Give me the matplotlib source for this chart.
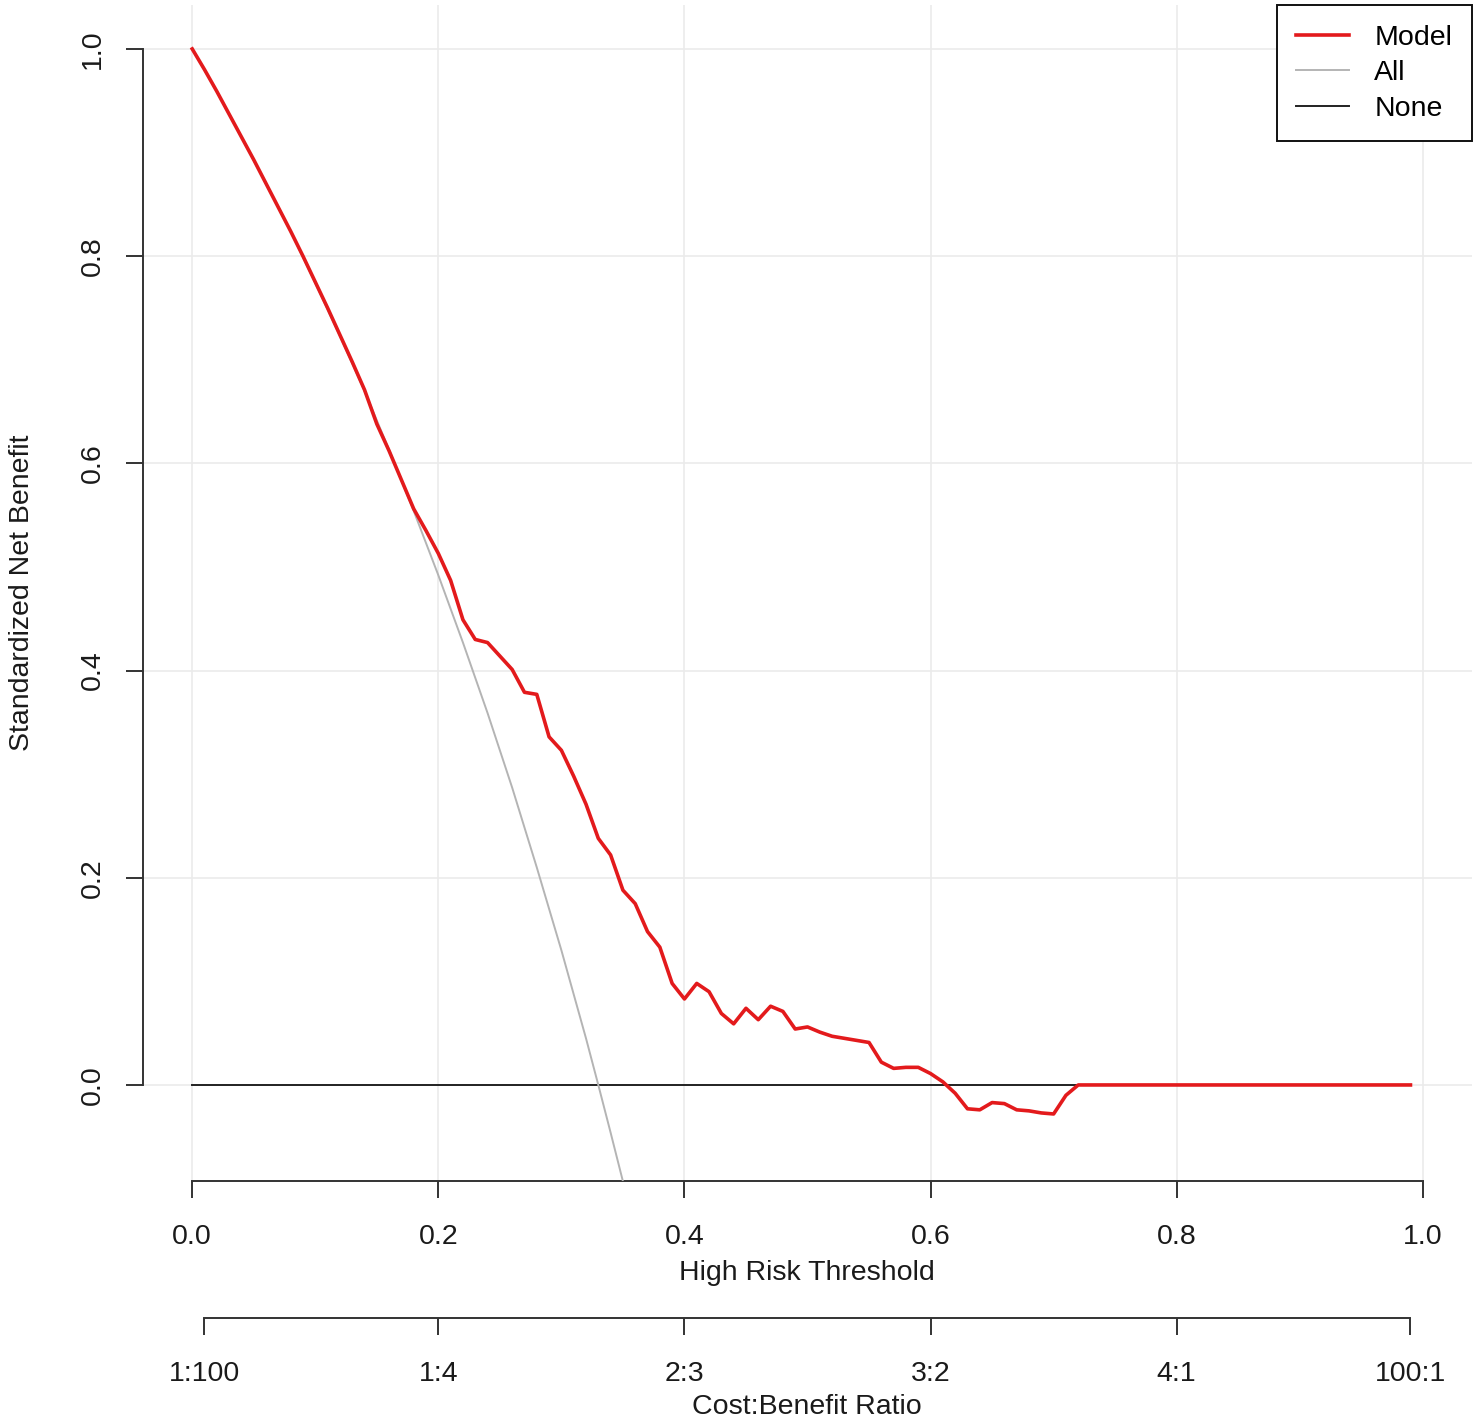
import matplotlib
matplotlib.use("Agg")
import matplotlib.pyplot as plt
import numpy as np

plt.rcParams['font.family'] = ['Liberation Sans', 'DejaVu Sans']

# ---- data ----
thresholds = [round(i * 0.01, 2) for i in range(100)]  # 0.00 .. 0.99

model_nb = [
    1.000, 0.980, 0.959, 0.937, 0.915, 0.893, 0.870, 0.847, 0.824, 0.800,
    0.775, 0.750, 0.724, 0.698, 0.671, 0.638, 0.612, 0.584, 0.556, 0.535,
    0.513, 0.487, 0.449, 0.430, 0.427, 0.414, 0.401, 0.379, 0.377, 0.336,
    0.323, 0.298, 0.271, 0.238, 0.222, 0.188, 0.175, 0.148, 0.133, 0.098,
    0.083, 0.098, 0.090, 0.069, 0.059, 0.074, 0.063, 0.076, 0.071, 0.054,
    0.056, 0.051, 0.047, 0.045, 0.043, 0.041, 0.022, 0.016, 0.017, 0.017,
    0.011, 0.003, -0.008, -0.023, -0.024, -0.017, -0.018, -0.024, -0.025, -0.027,
    -0.028, -0.010, 0.000, 0.000, 0.000, 0.000, 0.000, 0.000, 0.000, 0.000,
    0.000, 0.000, 0.000, 0.000, 0.000, 0.000, 0.000, 0.000, 0.000, 0.000,
    0.000, 0.000, 0.000, 0.000, 0.000, 0.000, 0.000, 0.000, 0.000, 0.000,
]

all_thresholds = [0.00, 0.02, 0.04, 0.06, 0.08, 0.10, 0.12, 0.14, 0.16, 0.18,
                  0.20, 0.22, 0.24, 0.26, 0.28, 0.30, 0.32, 0.33, 0.34, 0.35, 0.36]
all_nb = [1.000, 0.959, 0.915, 0.870, 0.824, 0.774, 0.723, 0.670, 0.613, 0.554,
          0.492, 0.427, 0.359, 0.287, 0.210, 0.130, 0.045, 0.000, -0.046, -0.093, -0.142]

none_x = [0.0, 0.99]
none_nb = [0.0, 0.0]

x_ticks = [0.0, 0.2, 0.4, 0.6, 0.8, 1.0]
x_tick_labels = ["0.0", "0.2", "0.4", "0.6", "0.8", "1.0"]
y_ticks = [0.0, 0.2, 0.4, 0.6, 0.8, 1.0]
y_tick_labels = ["0.0", "0.2", "0.4", "0.6", "0.8", "1.0"]
cb_ticks = [1 / 101, 0.2, 0.4, 0.6, 0.8, 0.99]
cb_labels = ["1:100", "1:4", "2:3", "3:2", "4:1", "100:1"]

# ---- figure ----
W, H = 1476, 1425
fig = plt.figure(figsize=(W / 100, H / 100), dpi=100)
left, right, top, bottom = 143, 1472, 5.4, 1181
ax = fig.add_axes([left / W, 1 - bottom / H, (right - left) / W, (bottom - top) / H])
ax.set_xlim(-0.04, 1.04)
ax.set_ylim(-0.0927, 1.042)

FS = 20.5
TXT = "#1a1a1a"
grid_c = "#EBEBEB"
for g in x_ticks:
    ax.axvline(g, color=grid_c, lw=1.2, zorder=0)
for g in y_ticks:
    ax.axhline(g, color=grid_c, lw=1.2, zorder=0)

ax.plot(none_x, none_nb, color="#222222", lw=1.4, label="None", zorder=2)
ax.plot(all_thresholds, all_nb, color="#B4B4B4", lw=1.4, label="All", zorder=3)
ax.plot(thresholds, model_nb, color="#E31A1C", lw=2.6, label="Model", zorder=4)

for s in ["top", "right"]:
    ax.spines[s].set_visible(False)
ax.spines["left"].set_bounds(0, 1)
ax.spines["bottom"].set_bounds(0, 1)
for s in ["left", "bottom"]:
    ax.spines[s].set_color("#333333")
    ax.spines[s].set_linewidth(1.4)

ax.set_xticks(x_ticks)
ax.set_xticklabels(x_tick_labels, fontsize=FS, color=TXT)
ax.set_yticks(y_ticks)
ax.set_yticklabels(y_tick_labels, fontsize=FS, color=TXT, rotation=90, va="center")
ax.tick_params(axis="both", direction="out", length=12, width=1.4, color="#333333")
ax.tick_params(axis="x", pad=19)
ax.tick_params(axis="y", pad=15)

# second axis (cost:benefit)
sec = ax.secondary_xaxis(-0.1165)
sec.set_xticks(cb_ticks)
sec.set_xticklabels(cb_labels, fontsize=FS, color=TXT)
sec.spines["bottom"].set_bounds(cb_ticks[0], cb_ticks[-1])
sec.spines["bottom"].set_color("#333333")
sec.spines["bottom"].set_linewidth(1.4)
sec.tick_params(axis="x", direction="out", length=12, width=1.4, color="#333333", pad=19)

fig.text(807 / W, 1 - 1273 / H, "High Risk Threshold", fontsize=FS, ha="center", va="center", color=TXT)
fig.text(807 / W, 1 - 1407 / H, "Cost:Benefit Ratio", fontsize=FS, ha="center", va="center", color=TXT)
fig.text(22 / W, 1 - 593 / H, "Standardized Net Benefit", fontsize=FS, ha="center", va="center",
         rotation=90, color=TXT)

handles, labels = ax.get_legend_handles_labels()
order = [2, 1, 0]
leg = ax.legend([handles[i] for i in order], [labels[i] for i in order],
                loc="upper right", bbox_to_anchor=(1.0, 1.0), borderaxespad=0,
                fontsize=FS, frameon=True, fancybox=False, edgecolor="#111111",
                framealpha=1, handlelength=1.85, handletextpad=0.88, labelspacing=0.32,
                borderpad=0.7)
leg.get_frame().set_linewidth(1.4)

fig.savefig("out.png", dpi=100)
